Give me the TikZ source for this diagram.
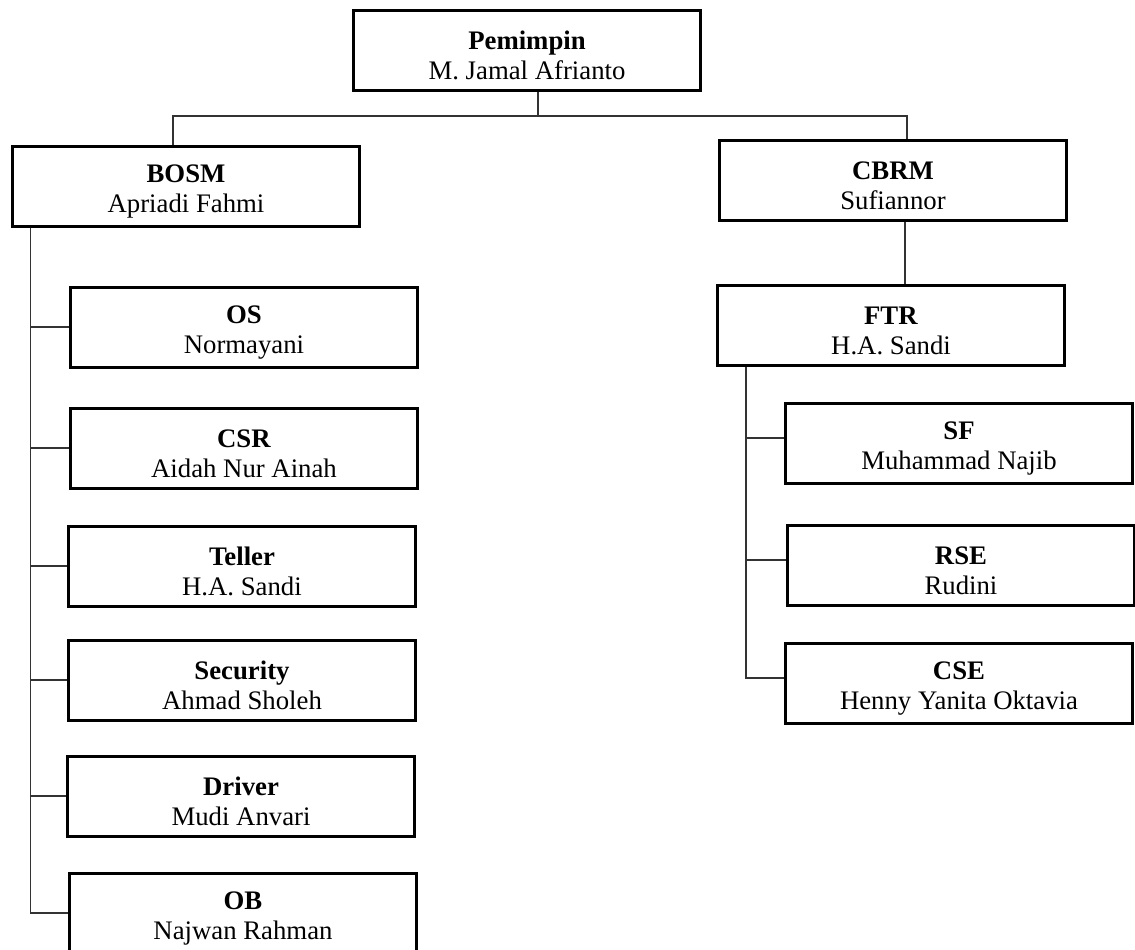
\documentclass[tikz,border=0pt]{standalone}
\usepackage{fontspec}
\setmainfont{Liberation Serif}

\newcommand{\unittext}[2]{\rule{0pt}{11.5pt}\textbf{#1}\\#2}

\tikzset{
  unit/.style={draw, line width=1.2pt, minimum width=139pt, minimum height=32pt,
               align=center, inner sep=2pt, font=\fontsize{10.7}{12}\selectfont},
  link/.style={draw=black!80, line width=0.6pt}
}

\begin{document}
\begin{tikzpicture}[x=0.4pt, y=-0.4pt]
            \useasboundingbox (0,0) rectangle (1135,949);

            % Top
            \node[unit] (pemimpin) at (527,50) {\unittext{Pemimpin}{M. Jamal Afrianto}};

            % Second level
            \node[unit] (bosm) at (186,186) {\unittext{BOSM}{Apriadi Fahmi}};
            \node[unit] (cbrm) at (893,180) {\unittext{CBRM}{Sufiannor}};

            % Under BOSM
            \node[unit] (os) at (244,327) {\unittext{OS}{Normayani}};
            \node[unit] (csr) at (244,448) {\unittext{CSR}{Aidah Nur Ainah}};
            \node[unit] (teller) at (242,566) {\unittext{Teller}{H.A. Sandi}};
            \node[unit] (security) at (242,680) {\unittext{Security}{Ahmad Sholeh}};
            \node[unit] (driver) at (241,796) {\unittext{Driver}{Mudi Anvari}};
            \node[unit] (ob) at (243,913) {\unittext{OB}{Najwan Rahman}};

            % Under CBRM
            \node[unit] (ftr) at (891,325) {\unittext{FTR}{H.A. Sandi}};
            \node[unit] (sf) at (959,443) {\unittext{SF}{Muhammad Najib}};
            \node[unit] (rse) at (961,565) {\unittext{RSE}{Rudini}};
            \node[unit] (cse) at (959,683) {\unittext{CSE}{Henny Yanita Oktavia}};

            % Lines from the top
            \coordinate (split) at (538,116);
            \draw[link] (pemimpin.south -| split) -- (split);
            \draw[link] (split) -| ([xshift=-5.2pt]bosm.north);
            \draw[link] (split) -| ([xshift=5.6pt]cbrm.north);
            \draw[link] ([xshift=4.8pt]cbrm.south) -- ([xshift=4.8pt]cbrm.south |- ftr.north);

            % BOSM staff
            \foreach \n in {os,csr,teller,security,driver,ob} {
                \draw[link] ([xshift=8pt]bosm.south west) |- (\n.west);
            }

            % FTR staff
            \foreach \n in {sf,rse,cse} {
                \draw[link] ([xshift=12pt]ftr.south west) |- ([yshift=2pt]\n.west);
            }
        \end{tikzpicture}
\end{document}
